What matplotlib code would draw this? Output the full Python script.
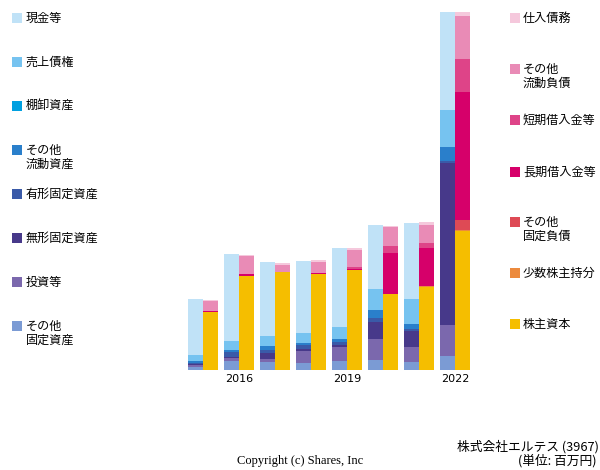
import numpy as np
import matplotlib
matplotlib.use("Agg")
import matplotlib.pyplot as plt

plt.rcParams['font.family'] = ['Noto Sans CJK JP', 'DejaVu Sans']

years = [2015, 2016, 2017, 2018, 2019, 2020, 2021, 2022]
tick_years = [2016, 2019, 2022]

# assets (bottom -> top)
asset_names = ["その他\n固定資産", "投資等", "無形固定資産", "有形固定資産",
               "その他\n流動資産", "棚卸資産", "売上債権", "現金等"]
other_fixed_assets = [3, 9, 7.7, 7, 8.7, 10, 7.7, 14]
investments = [2, 2.7, 3.3, 12, 14, 21, 15, 31]
intangible = [1, 1, 5.7, 2.3, 2.7, 17.3, 16.7, 162]
tangible = [1, 5, 3.3, 3.3, 2.3, 4, 2, 1.7]
other_current_assets = [2, 2.5, 4, 2.3, 3.3, 7.7, 5, 14]
inventory = [0, 0, 0, 0, 0, 0, 0, 0]
receivables = [6, 9, 10, 10.3, 12.3, 21, 25, 37]
cash = [56, 87, 74, 72, 79, 64, 76, 98.7]

# liabilities + equity (bottom -> top)
liab_names = ["株主資本", "少数株主持分", "その他\n固定負債", "長期借入金等",
              "短期借入金等", "その他\n流動負債", "仕入債務"]
equity = [58, 94, 98, 96, 100, 76, 83, 139]
minority = [0, 0, 0, 0, 0, 0, 1, 1]
other_fixed_liab = [0, 0, 0, 0, 0, 0, 0, 10]
long_term_debt = [1, 2, 0.5, 1.3, 1.3, 41, 37.7, 128]
short_term_debt = [0.5, 0.5, 0, 0, 2, 6.7, 5.7, 32.7]
other_current_liab = [10, 18, 7, 11, 17, 19, 17.7, 43]
payables = [1, 1, 2, 1.7, 1.7, 1.7, 2.7, 4]

assets = [other_fixed_assets, investments, intangible, tangible,
          other_current_assets, inventory, receivables, cash]
asset_colors = ["#7b9bd4", "#7b68ad", "#47398a", "#3a5aa8",
                "#2a7fcb", "#00a0e0", "#76c3f0", "#c0e2f7"]
liabs = [equity, minority, other_fixed_liab, long_term_debt,
         short_term_debt, other_current_liab, payables]
liab_colors = ["#f5be00", "#ec8a3d", "#de4a55", "#d6006a",
               "#de4488", "#e98bb6", "#f5c8dc"]

fig = plt.figure(figsize=(6, 4.7), dpi=100)
ax = fig.add_axes([180 / 600, 100 / 470, 298 / 600, 358 / 470])

x = np.arange(len(years))
w = 15 / 36

bottom = np.zeros(len(years))
for vals, c in zip(assets, asset_colors):
    ax.bar(x - w / 2, vals, w, bottom=bottom, color=c, linewidth=0)
    bottom += np.array(vals)

bottom = np.zeros(len(years))
for vals, c in zip(liabs, liab_colors):
    ax.bar(x + w / 2, vals, w, bottom=bottom, color=c, linewidth=0)
    bottom += np.array(vals)

ax.set_xlim(-23 / 36, 275 / 36)
ax.set_ylim(0, 358)
ax.set_xticks([years.index(y) for y in tick_years])
ax.set_xticklabels([str(y) for y in tick_years], fontsize=8, family='DejaVu Sans')
ax.tick_params(axis='x', length=0, pad=3)
ax.set_yticks([])
for s in ax.spines.values():
    s.set_visible(False)

# left legend (assets, top -> bottom)
left_y = [18, 62, 106, 150, 194, 238, 282, 326]
for name, c, yy in zip(asset_names[::-1], asset_colors[::-1], left_y):
    fig.patches.append(plt.Rectangle((12 / 600, 1 - (yy + 5) / 470), 10 / 600, 10 / 470,
                                     transform=fig.transFigure, color=c, linewidth=0))
    fig.text(26 / 600, 1 - (yy - 6) / 470, name, fontsize=8.7, va='top', ha='left',
             linespacing=1.1)

right_y = [18, 69, 120, 172, 222, 273, 324]
for name, c, yy in zip(liab_names[::-1], liab_colors[::-1], right_y):
    fig.patches.append(plt.Rectangle((510 / 600, 1 - (yy + 5) / 470), 10 / 600, 10 / 470,
                                     transform=fig.transFigure, color=c, linewidth=0))
    fig.text(523 / 600, 1 - (yy - 6) / 470, name, fontsize=8.7, va='top', ha='left',
             linespacing=1.1)

fig.text(300 / 600, 1 - 461 / 470, "Copyright (c) Shares, Inc", fontsize=9,
         family='Liberation Serif', ha='center', va='center')
fig.text(599 / 600, 1 - 447 / 470, "株式会社エルテス (3967)", fontsize=9.2,
         ha='right', va='center')
fig.text(597 / 600, 1 - 461 / 470, "(単位: 百万円)", fontsize=9.2,
         ha='right', va='center')

fig.savefig("out.png", dpi=100)
